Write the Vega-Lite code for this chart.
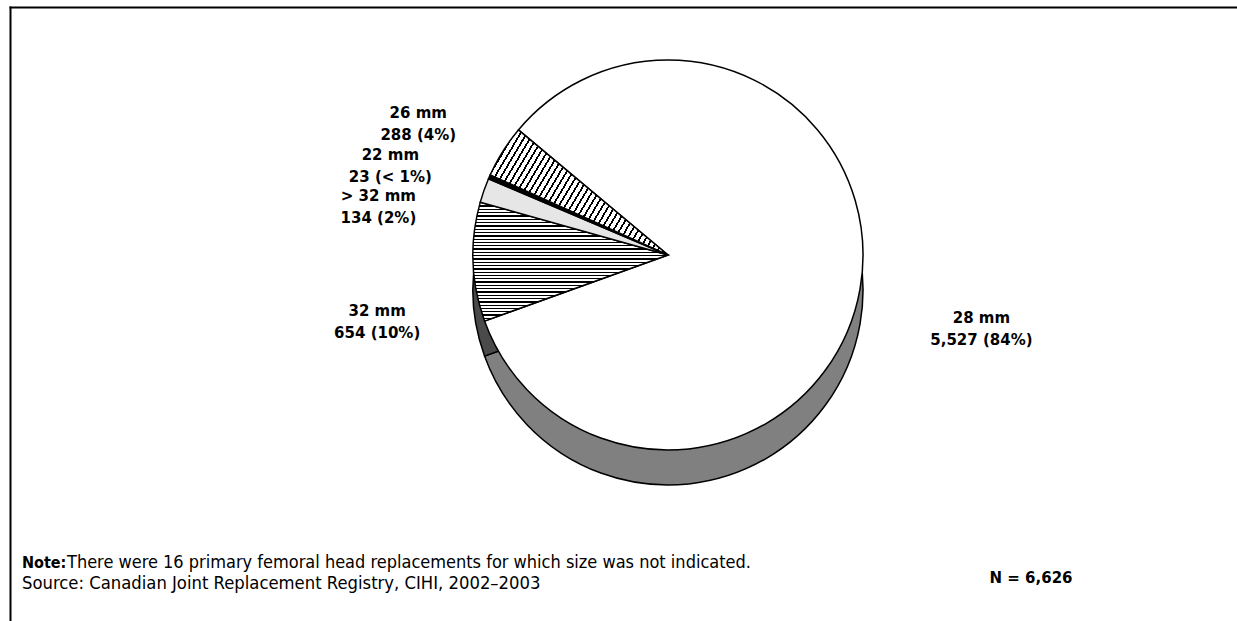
{
  "$schema": "https://vega.github.io/schema/vega-lite/v6.json",
  "width": 1227,
  "height": 614,
  "autosize": "none",
  "padding": {"left": 10, "top": 7, "right": 0, "bottom": 0},
  "background": "white",
  "view": {"stroke": null, "fill": null},
  "config": {"font": "DejaVu Sans"},
  "data": {"values": [
    {"size": "28 mm", "count": 5527, "label": "28 mm\n5,527 (84%)"},
    {"size": "32 mm", "count": 654, "label": "32 mm\n654 (10%)"},
    {"size": "> 32 mm", "count": 134, "label": "> 32 mm\n134 (2%)"},
    {"size": "22 mm", "count": 23, "label": "22 mm\n23 (< 1%)"},
    {"size": "26 mm", "count": 288, "label": "26 mm\n288 (4%)"}
  ]},
  "layer": [
    {
      "data": {"values": [{}]},
      "mark": {"type": "point", "opacity": 0},
      "encoding": {
        "x": {"datum": 0, "type": "quantitative", "scale": {"domain": [0, 1]},
          "axis": {"orient": "top", "domain": true, "domainColor": "black", "domainWidth": 2, "domainCap": "square", "ticks": false, "labels": false, "grid": false, "title": null}},
        "y": {"datum": 0, "type": "quantitative", "scale": {"domain": [0, 1]},
          "axis": {"orient": "left", "domain": true, "domainColor": "black", "domainWidth": 2, "domainCap": "square", "ticks": false, "labels": false, "grid": false, "title": null}}
      }
    },
    {
      "encoding": {
        "theta": {"field": "count", "type": "quantitative", "stack": true, "scale": {"range": [5.114, 11.397]}},
        "order": {"field": "size", "type": "ordinal", "sort": "ascending"}
      },
      "layer": [
        {
          "mark": {"type": "arc", "radius": 195, "xOffset": 44.5, "yOffset": -24, "stroke": "black", "strokeWidth": 1.5},
          "encoding": {"color": {"field": "size", "type": "nominal", "legend": null,
            "scale": {"domain": ["28 mm", "32 mm", "> 32 mm", "22 mm", "26 mm"], "range": ["#808080", "#4a4a4a", "#9a9a9a", "#202020", "#707070"]}}}
        },
        {
          "mark": {"type": "arc", "radius": 195, "xOffset": 44.5, "yOffset": -59, "stroke": "black", "strokeWidth": 1.5},
          "encoding": {"fill": {
            "condition": [
              {"test": "datum.size === '32 mm'", "value": {"gradient": "linear", "x1": 0, "y1": 0, "x2": 0, "y2": 1, "stops": [
                {"offset": 0, "color": "#000"}, {"offset": 0.011, "color": "#000"}, {"offset": 0.011, "color": "#fff"}, {"offset": 0.0278, "color": "#fff"},
                {"offset": 0.0278, "color": "#000"}, {"offset": 0.0388, "color": "#000"}, {"offset": 0.0388, "color": "#fff"}, {"offset": 0.0556, "color": "#fff"},
                {"offset": 0.0556, "color": "#000"}, {"offset": 0.0666, "color": "#000"}, {"offset": 0.0666, "color": "#fff"}, {"offset": 0.0833, "color": "#fff"},
                {"offset": 0.0833, "color": "#000"}, {"offset": 0.0943, "color": "#000"}, {"offset": 0.0943, "color": "#fff"}, {"offset": 0.1111, "color": "#fff"},
                {"offset": 0.1111, "color": "#000"}, {"offset": 0.1221, "color": "#000"}, {"offset": 0.1221, "color": "#fff"}, {"offset": 0.1389, "color": "#fff"},
                {"offset": 0.1389, "color": "#000"}, {"offset": 0.1499, "color": "#000"}, {"offset": 0.1499, "color": "#fff"}, {"offset": 0.1667, "color": "#fff"},
                {"offset": 0.1667, "color": "#000"}, {"offset": 0.1777, "color": "#000"}, {"offset": 0.1777, "color": "#fff"}, {"offset": 0.1944, "color": "#fff"},
                {"offset": 0.1944, "color": "#000"}, {"offset": 0.2054, "color": "#000"}, {"offset": 0.2054, "color": "#fff"}, {"offset": 0.2222, "color": "#fff"},
                {"offset": 0.2222, "color": "#000"}, {"offset": 0.2332, "color": "#000"}, {"offset": 0.2332, "color": "#fff"}, {"offset": 0.25, "color": "#fff"},
                {"offset": 0.25, "color": "#000"}, {"offset": 0.261, "color": "#000"}, {"offset": 0.261, "color": "#fff"}, {"offset": 0.2778, "color": "#fff"},
                {"offset": 0.2778, "color": "#000"}, {"offset": 0.2888, "color": "#000"}, {"offset": 0.2888, "color": "#fff"}, {"offset": 0.3056, "color": "#fff"},
                {"offset": 0.3056, "color": "#000"}, {"offset": 0.3166, "color": "#000"}, {"offset": 0.3166, "color": "#fff"}, {"offset": 0.3333, "color": "#fff"},
                {"offset": 0.3333, "color": "#000"}, {"offset": 0.3443, "color": "#000"}, {"offset": 0.3443, "color": "#fff"}, {"offset": 0.3611, "color": "#fff"},
                {"offset": 0.3611, "color": "#000"}, {"offset": 0.3721, "color": "#000"}, {"offset": 0.3721, "color": "#fff"}, {"offset": 0.3889, "color": "#fff"},
                {"offset": 0.3889, "color": "#000"}, {"offset": 0.3999, "color": "#000"}, {"offset": 0.3999, "color": "#fff"}, {"offset": 0.4167, "color": "#fff"},
                {"offset": 0.4167, "color": "#000"}, {"offset": 0.4277, "color": "#000"}, {"offset": 0.4277, "color": "#fff"}, {"offset": 0.4444, "color": "#fff"},
                {"offset": 0.4444, "color": "#000"}, {"offset": 0.4554, "color": "#000"}, {"offset": 0.4554, "color": "#fff"}, {"offset": 0.4722, "color": "#fff"},
                {"offset": 0.4722, "color": "#000"}, {"offset": 0.4832, "color": "#000"}, {"offset": 0.4832, "color": "#fff"}, {"offset": 0.5, "color": "#fff"},
                {"offset": 0.5, "color": "#000"}, {"offset": 0.511, "color": "#000"}, {"offset": 0.511, "color": "#fff"}, {"offset": 0.5278, "color": "#fff"},
                {"offset": 0.5278, "color": "#000"}, {"offset": 0.5388, "color": "#000"}, {"offset": 0.5388, "color": "#fff"}, {"offset": 0.5556, "color": "#fff"},
                {"offset": 0.5556, "color": "#000"}, {"offset": 0.5666, "color": "#000"}, {"offset": 0.5666, "color": "#fff"}, {"offset": 0.5833, "color": "#fff"},
                {"offset": 0.5833, "color": "#000"}, {"offset": 0.5943, "color": "#000"}, {"offset": 0.5943, "color": "#fff"}, {"offset": 0.6111, "color": "#fff"},
                {"offset": 0.6111, "color": "#000"}, {"offset": 0.6221, "color": "#000"}, {"offset": 0.6221, "color": "#fff"}, {"offset": 0.6389, "color": "#fff"},
                {"offset": 0.6389, "color": "#000"}, {"offset": 0.6499, "color": "#000"}, {"offset": 0.6499, "color": "#fff"}, {"offset": 0.6667, "color": "#fff"},
                {"offset": 0.6667, "color": "#000"}, {"offset": 0.6777, "color": "#000"}, {"offset": 0.6777, "color": "#fff"}, {"offset": 0.6944, "color": "#fff"},
                {"offset": 0.6944, "color": "#000"}, {"offset": 0.7054, "color": "#000"}, {"offset": 0.7054, "color": "#fff"}, {"offset": 0.7222, "color": "#fff"},
                {"offset": 0.7222, "color": "#000"}, {"offset": 0.7332, "color": "#000"}, {"offset": 0.7332, "color": "#fff"}, {"offset": 0.75, "color": "#fff"},
                {"offset": 0.75, "color": "#000"}, {"offset": 0.761, "color": "#000"}, {"offset": 0.761, "color": "#fff"}, {"offset": 0.7778, "color": "#fff"},
                {"offset": 0.7778, "color": "#000"}, {"offset": 0.7888, "color": "#000"}, {"offset": 0.7888, "color": "#fff"}, {"offset": 0.8056, "color": "#fff"},
                {"offset": 0.8056, "color": "#000"}, {"offset": 0.8166, "color": "#000"}, {"offset": 0.8166, "color": "#fff"}, {"offset": 0.8333, "color": "#fff"},
                {"offset": 0.8333, "color": "#000"}, {"offset": 0.8443, "color": "#000"}, {"offset": 0.8443, "color": "#fff"}, {"offset": 0.8611, "color": "#fff"},
                {"offset": 0.8611, "color": "#000"}, {"offset": 0.8721, "color": "#000"}, {"offset": 0.8721, "color": "#fff"}, {"offset": 0.8889, "color": "#fff"},
                {"offset": 0.8889, "color": "#000"}, {"offset": 0.8999, "color": "#000"}, {"offset": 0.8999, "color": "#fff"}, {"offset": 0.9167, "color": "#fff"},
                {"offset": 0.9167, "color": "#000"}, {"offset": 0.9277, "color": "#000"}, {"offset": 0.9277, "color": "#fff"}, {"offset": 0.9444, "color": "#fff"},
                {"offset": 0.9444, "color": "#000"}, {"offset": 0.9554, "color": "#000"}, {"offset": 0.9554, "color": "#fff"}, {"offset": 0.9722, "color": "#fff"},
                {"offset": 0.9722, "color": "#000"}, {"offset": 0.9832, "color": "#000"}, {"offset": 0.9832, "color": "#fff"}, {"offset": 1, "color": "#fff"}
              ]}},
              {"test": "datum.size === '26 mm'", "value": {"gradient": "linear", "x1": 0, "y1": 0, "x2": 1.2, "y2": 0.5, "stops": [
                {"offset": 0, "color": "#000"}, {"offset": 0.008, "color": "#000"}, {"offset": 0.008, "color": "#fff"}, {"offset": 0.025, "color": "#fff"},
                {"offset": 0.025, "color": "#000"}, {"offset": 0.033, "color": "#000"}, {"offset": 0.033, "color": "#fff"}, {"offset": 0.05, "color": "#fff"},
                {"offset": 0.05, "color": "#000"}, {"offset": 0.058, "color": "#000"}, {"offset": 0.058, "color": "#fff"}, {"offset": 0.075, "color": "#fff"},
                {"offset": 0.075, "color": "#000"}, {"offset": 0.083, "color": "#000"}, {"offset": 0.083, "color": "#fff"}, {"offset": 0.1, "color": "#fff"},
                {"offset": 0.1, "color": "#000"}, {"offset": 0.108, "color": "#000"}, {"offset": 0.108, "color": "#fff"}, {"offset": 0.125, "color": "#fff"},
                {"offset": 0.125, "color": "#000"}, {"offset": 0.133, "color": "#000"}, {"offset": 0.133, "color": "#fff"}, {"offset": 0.15, "color": "#fff"},
                {"offset": 0.15, "color": "#000"}, {"offset": 0.158, "color": "#000"}, {"offset": 0.158, "color": "#fff"}, {"offset": 0.175, "color": "#fff"},
                {"offset": 0.175, "color": "#000"}, {"offset": 0.183, "color": "#000"}, {"offset": 0.183, "color": "#fff"}, {"offset": 0.2, "color": "#fff"},
                {"offset": 0.2, "color": "#000"}, {"offset": 0.208, "color": "#000"}, {"offset": 0.208, "color": "#fff"}, {"offset": 0.225, "color": "#fff"},
                {"offset": 0.225, "color": "#000"}, {"offset": 0.233, "color": "#000"}, {"offset": 0.233, "color": "#fff"}, {"offset": 0.25, "color": "#fff"},
                {"offset": 0.25, "color": "#000"}, {"offset": 0.258, "color": "#000"}, {"offset": 0.258, "color": "#fff"}, {"offset": 0.275, "color": "#fff"},
                {"offset": 0.275, "color": "#000"}, {"offset": 0.283, "color": "#000"}, {"offset": 0.283, "color": "#fff"}, {"offset": 0.3, "color": "#fff"},
                {"offset": 0.3, "color": "#000"}, {"offset": 0.308, "color": "#000"}, {"offset": 0.308, "color": "#fff"}, {"offset": 0.325, "color": "#fff"},
                {"offset": 0.325, "color": "#000"}, {"offset": 0.333, "color": "#000"}, {"offset": 0.333, "color": "#fff"}, {"offset": 0.35, "color": "#fff"},
                {"offset": 0.35, "color": "#000"}, {"offset": 0.358, "color": "#000"}, {"offset": 0.358, "color": "#fff"}, {"offset": 0.375, "color": "#fff"},
                {"offset": 0.375, "color": "#000"}, {"offset": 0.383, "color": "#000"}, {"offset": 0.383, "color": "#fff"}, {"offset": 0.4, "color": "#fff"},
                {"offset": 0.4, "color": "#000"}, {"offset": 0.408, "color": "#000"}, {"offset": 0.408, "color": "#fff"}, {"offset": 0.425, "color": "#fff"},
                {"offset": 0.425, "color": "#000"}, {"offset": 0.433, "color": "#000"}, {"offset": 0.433, "color": "#fff"}, {"offset": 0.45, "color": "#fff"},
                {"offset": 0.45, "color": "#000"}, {"offset": 0.458, "color": "#000"}, {"offset": 0.458, "color": "#fff"}, {"offset": 0.475, "color": "#fff"},
                {"offset": 0.475, "color": "#000"}, {"offset": 0.483, "color": "#000"}, {"offset": 0.483, "color": "#fff"}, {"offset": 0.5, "color": "#fff"},
                {"offset": 0.5, "color": "#000"}, {"offset": 0.508, "color": "#000"}, {"offset": 0.508, "color": "#fff"}, {"offset": 0.525, "color": "#fff"},
                {"offset": 0.525, "color": "#000"}, {"offset": 0.533, "color": "#000"}, {"offset": 0.533, "color": "#fff"}, {"offset": 0.55, "color": "#fff"},
                {"offset": 0.55, "color": "#000"}, {"offset": 0.558, "color": "#000"}, {"offset": 0.558, "color": "#fff"}, {"offset": 0.575, "color": "#fff"},
                {"offset": 0.575, "color": "#000"}, {"offset": 0.583, "color": "#000"}, {"offset": 0.583, "color": "#fff"}, {"offset": 0.6, "color": "#fff"},
                {"offset": 0.6, "color": "#000"}, {"offset": 0.608, "color": "#000"}, {"offset": 0.608, "color": "#fff"}, {"offset": 0.625, "color": "#fff"},
                {"offset": 0.625, "color": "#000"}, {"offset": 0.633, "color": "#000"}, {"offset": 0.633, "color": "#fff"}, {"offset": 0.65, "color": "#fff"},
                {"offset": 0.65, "color": "#000"}, {"offset": 0.658, "color": "#000"}, {"offset": 0.658, "color": "#fff"}, {"offset": 0.675, "color": "#fff"},
                {"offset": 0.675, "color": "#000"}, {"offset": 0.683, "color": "#000"}, {"offset": 0.683, "color": "#fff"}, {"offset": 0.7, "color": "#fff"},
                {"offset": 0.7, "color": "#000"}, {"offset": 0.708, "color": "#000"}, {"offset": 0.708, "color": "#fff"}, {"offset": 0.725, "color": "#fff"},
                {"offset": 0.725, "color": "#000"}, {"offset": 0.733, "color": "#000"}, {"offset": 0.733, "color": "#fff"}, {"offset": 0.75, "color": "#fff"},
                {"offset": 0.75, "color": "#000"}, {"offset": 0.758, "color": "#000"}, {"offset": 0.758, "color": "#fff"}, {"offset": 0.775, "color": "#fff"},
                {"offset": 0.775, "color": "#000"}, {"offset": 0.783, "color": "#000"}, {"offset": 0.783, "color": "#fff"}, {"offset": 0.8, "color": "#fff"},
                {"offset": 0.8, "color": "#000"}, {"offset": 0.808, "color": "#000"}, {"offset": 0.808, "color": "#fff"}, {"offset": 0.825, "color": "#fff"},
                {"offset": 0.825, "color": "#000"}, {"offset": 0.833, "color": "#000"}, {"offset": 0.833, "color": "#fff"}, {"offset": 0.85, "color": "#fff"},
                {"offset": 0.85, "color": "#000"}, {"offset": 0.858, "color": "#000"}, {"offset": 0.858, "color": "#fff"}, {"offset": 0.875, "color": "#fff"},
                {"offset": 0.875, "color": "#000"}, {"offset": 0.883, "color": "#000"}, {"offset": 0.883, "color": "#fff"}, {"offset": 0.9, "color": "#fff"},
                {"offset": 0.9, "color": "#000"}, {"offset": 0.908, "color": "#000"}, {"offset": 0.908, "color": "#fff"}, {"offset": 0.925, "color": "#fff"},
                {"offset": 0.925, "color": "#000"}, {"offset": 0.933, "color": "#000"}, {"offset": 0.933, "color": "#fff"}, {"offset": 0.95, "color": "#fff"},
                {"offset": 0.95, "color": "#000"}, {"offset": 0.958, "color": "#000"}, {"offset": 0.958, "color": "#fff"}, {"offset": 0.975, "color": "#fff"},
                {"offset": 0.975, "color": "#000"}, {"offset": 0.983, "color": "#000"}, {"offset": 0.983, "color": "#fff"}, {"offset": 1, "color": "#fff"}
              ]}}
            ],
            "field": "size", "type": "nominal", "legend": null,
            "scale": {"domain": ["28 mm", "32 mm", "> 32 mm", "22 mm", "26 mm"], "range": ["#ffffff", "#8c8c8c", "#e6e6e6", "#000000", "#b4b4b4"]}}}
        },
        {
          "mark": {"type": "text", "radius": 300, "xOffset": 44.5, "yOffset": -59, "dx": 18, "dy": 11, "fontWeight": "bold", "fontSize": 15, "lineHeight": 22, "lineBreak": "\n", "align": "center", "baseline": "middle", "color": "black"},
          "encoding": {"text": {"condition": {"test": "datum.size === '28 mm'", "field": "label"}, "value": ""}}
        },
        {
          "mark": {"type": "text", "radius": 290, "xOffset": 44.5, "yOffset": -59, "dx": -1, "dy": 46, "fontWeight": "bold", "fontSize": 15, "lineHeight": 22, "lineBreak": "\n", "align": "center", "baseline": "middle", "color": "black"},
          "encoding": {"text": {"condition": {"test": "datum.size === '32 mm'", "field": "label"}, "value": ""}}
        },
        {
          "mark": {"type": "text", "radius": 290, "xOffset": 44.5, "yOffset": -59, "dx": -16, "dy": 37, "fontWeight": "bold", "fontSize": 15, "lineHeight": 22, "lineBreak": "\n", "align": "center", "baseline": "middle", "color": "black"},
          "encoding": {"text": {"condition": {"test": "datum.size === '> 32 mm'", "field": "label"}, "value": ""}}
        },
        {
          "mark": {"type": "text", "radius": 290, "xOffset": 44.5, "yOffset": -59, "dx": -12, "dy": 16, "fontWeight": "bold", "fontSize": 15, "lineHeight": 22, "lineBreak": "\n", "align": "center", "baseline": "middle", "color": "black"},
          "encoding": {"text": {"condition": {"test": "datum.size === '22 mm'", "field": "label"}, "value": ""}}
        },
        {
          "mark": {"type": "text", "radius": 290, "xOffset": 44.5, "yOffset": -59, "dx": -4, "dy": 12, "fontWeight": "bold", "fontSize": 15, "lineHeight": 22, "lineBreak": "\n", "align": "center", "baseline": "middle", "color": "black"},
          "encoding": {"text": {"condition": {"test": "datum.size === '26 mm'", "field": "label"}, "value": ""}}
        }
      ]
    },
    {
      "data": {"values": [{}]},
      "mark": {"type": "text", "text": "Note:", "x": 12, "y": 556, "align": "left", "baseline": "middle", "fontWeight": "bold", "fontSize": 16, "font": "DejaVu Sans Condensed", "color": "black"}
    },
    {
      "data": {"values": [{}]},
      "mark": {"type": "text", "text": "There were 16 primary femoral head replacements for which size was not indicated.", "x": 57, "y": 556, "align": "left", "baseline": "middle", "fontSize": 18, "font": "DejaVu Sans Condensed", "color": "black"}
    },
    {
      "data": {"values": [{}]},
      "mark": {"type": "text", "text": "Source: Canadian Joint Replacement Registry, CIHI, 2002–2003", "x": 12, "y": 577, "align": "left", "baseline": "middle", "fontSize": 18.3, "font": "DejaVu Sans Condensed", "color": "black"}
    },
    {
      "data": {"values": [{}]},
      "mark": {"type": "text", "text": "N = 6,626", "x": 1021, "y": 571, "align": "center", "baseline": "middle", "fontWeight": "bold", "fontSize": 15, "color": "black"}
    }
  ]
}
